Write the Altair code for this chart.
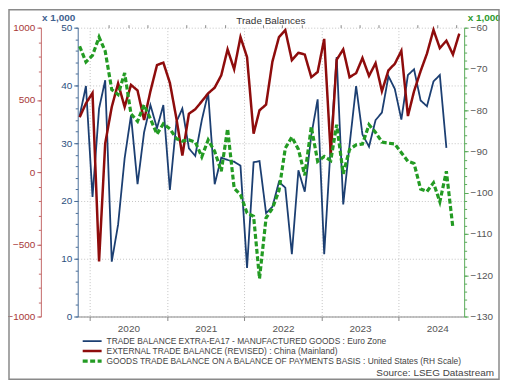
import altair as alt
import pandas as pd

blue_name = "TRADE BALANCE EXTRA-EA17 - MANUFACTURED GOODS : Euro Zone"
red_name = "EXTERNAL TRADE BALANCE (REVISED) : China (Mainland)"
green_name = "GOODS TRADE BALANCE ON A BALANCE OF PAYMENTS BASIS : United States (RH Scale)"

first_month = "2019-11-15"

blue_vals = [34.7, 39.9, 20.7, 36.0, 40.9, 9.5, 15.9, 27.4, 34.8, 22.9, 31.9, 36.6,
             32.6, 36.6, 21.9, 33.7, 36.0, 29.1, 27.8, 34.0, 38.7, 22.9, 27.5, 27.1,
             26.8, 26.1, 8.4, 26.7, 26.9, 17.9, 19.0, 23.3, 22.3, 10.8, 25.3, 21.6,
             31.4, 37.6, 10.8, 29.7, 44.9, 19.4, 29.7, 39.9, 31.5, 29.4, 34.0, 35.3,
             41.6, 39.4, 34.1, 41.8, 42.8, 37.4, 36.4, 40.7, 41.8, 29.2]

red_vals = [379, 476, 548, -618, 198, 451, 614, 451, 604, 565, 360, 560,
            741, 758, 618, 370, 114, 404, 435, 490, 545, 585, 670, 850,
            712, 935, 796, 266, 428, 467, 765, 935, 983, 775, 826, 814,
            657, 693, 922, 121, 778, 850, 657, 685, 790, 666, 754, 560,
            705, 750, 840, 388, 560, 699, 820, 985, 858, 910, 814, 959]

green_vals = [-64.5, -68.3, -66.7, -62.3, -65.7, -75.0, -76.2, -71.0, -80.9, -82.7, -78.7, -82.1,
              -85.8, -83.3, -84.5, -86.9, -87.5, -87.2, -87.7, -91.3, -87.2, -90.0, -94.8, -84.5,
              -98.9, -100.5, -104.9, -105.7, -120.8, -106.1, -103.8, -99.5, -89.2, -86.5, -89.5, -95.8,
              -84.0, -92.4, -91.2, -92.2, -83.5, -95.4, -89.5, -88.4, -88.2, -83.5, -85.4, -87.7,
              -88.0, -88.2, -90.3, -92.4, -92.9, -99.1, -99.7, -97.6, -102.2, -94.8, -108.6]

year_ticks = [2020, 2021, 2022, 2023, 2024]
quarter_months = [4, 7, 10]

blue_ticks = [0, 10, 20, 30, 40, 50]
red_ticks = [-1000, -500, 0, 500, 1000]
green_ticks = [-130, -120, -110, -100, -90, -80, -70, -60]

title_text = "Trade Balances"
unit_text = "x 1,000"
source_text = "Source: LSEG Datastream"

names = [blue_name, red_name, green_name]
colors = ["#1c3f72", "#8e0c0c", "#239b23"]
dashes = [[1, 0], [1, 0], [5, 2.5]]
widths = [1.8, 3.2, 2.3]


def make_df(vals, name):
    dates = pd.date_range(first_month, periods=len(vals), freq=pd.DateOffset(months=1))
    return pd.DataFrame({"date": dates.strftime("%Y-%m-%d"), "value": vals, "series": name})


df_blue = make_df(blue_vals, blue_name)
df_red = make_df(red_vals, red_name)
df_green = make_df(green_vals, green_name)

x_scale = alt.Scale(type="utc", domain=[alt.DateTime(year=2019, month=11, date=6, utc=True),
                                        alt.DateTime(year=2024, month=11, date=7, utc=True)])

major_x_axis = alt.Axis(
    values=[alt.DateTime(year=y, month=1, date=1, utc=True) for y in year_ticks],
    format="%Y", formatType="utc", labelOffset=39, grid=True, gridDash=[1, 2],
    gridColor="#c4c4c4", tickSize=4, tickColor="#888", domainColor="#8a8a8a",
    labelColor="#555", labelFontSize=10, labelPadding=3, title=None,
)
minor_x_axis = alt.Axis(
    values=[alt.DateTime(year=y, month=m, date=1, utc=True) for y in year_ticks for m in quarter_months],
    labels=False, grid=False, domain=False, tickSize=3, tickColor="#888", title=None,
)

legend = alt.Legend(
    orient="none", legendX=3, legendY=310, direction="vertical", symbolType="stroke",
    symbolSize=361, labelFontSize=8.4, labelColor="#444", labelLimit=0, title=None,
    clipHeight=9.5, rowPadding=0, labelOffset=3, symbolOpacity=1,
)

enc_style = dict(
    color=alt.Color("series:N", scale=alt.Scale(domain=names, range=colors), legend=legend),
    strokeDash=alt.StrokeDash("series:N", scale=alt.Scale(domain=names, range=dashes), legend=legend),
    strokeWidth=alt.StrokeWidth("series:N", scale=alt.Scale(domain=names, range=widths), legend=legend),
)


def line_layer(df, domain, yaxis, xaxis=None):
    return alt.Chart(df).mark_line(clip=False).encode(
        x=alt.X("date:T", scale=x_scale, axis=xaxis),
        y=alt.Y("value:Q", scale=alt.Scale(domain=domain, nice=False, zero=False), axis=yaxis),
        **enc_style,
    )


def tick_layer(df, domain, yaxis, xaxis=None):
    return alt.Chart(df).mark_line(strokeOpacity=0).encode(
        x=alt.X("date:T", scale=x_scale, axis=xaxis),
        y=alt.Y("value:Q", scale=alt.Scale(domain=domain, nice=False, zero=False), axis=yaxis),
    )


blue_axis = alt.Axis(
    orient="left", values=blue_ticks, grid=True, gridDash=[1, 2], gridColor="#c4c4c4",
    tickSize=4, tickColor="#4b6f99", domainColor="#4b6f99", labelColor="#2b4f7e",
    labelFontSize=10, labelPadding=2, title=unit_text, titleAngle=0, titleAlign="right",
    titleBaseline="alphabetic", titleX=-3, titleY=-7, titleFontSize=10, titleColor="#3f628f",
    titleFontWeight="bold", format="d",
)
blue_minor = alt.Axis(orient="left", values=list(range(0, 51, 2)), labels=False, grid=False,
                      domain=False, tickSize=2.5, tickColor="#4b6f99", title=None)

red_axis = alt.Axis(
    orient="left", offset=37, values=red_ticks, grid=False, tickSize=4, tickColor="#c46a6a",
    domainColor="#c46a6a", labelColor="#a83838", labelFontSize=10, labelPadding=2, title=None,
    format="d",
)
red_minor = alt.Axis(orient="left", offset=37, values=list(range(-1000, 1001, 100)), labels=False,
                     grid=False, domain=False, tickSize=2.5, tickColor="#c46a6a", title=None)

green_axis = alt.Axis(
    orient="right", values=green_ticks, grid=False, tickSize=4, tickColor="#5aaa5a",
    domainColor="#5aaa5a", labelColor="#555", labelFontSize=10, labelPadding=2,
    title=unit_text, titleAngle=0, titleAlign="left", titleBaseline="alphabetic",
    titleX=3, titleY=-7, titleFontSize=10, titleColor="#2e9a2e", titleFontWeight="bold",
    format="d",
)
green_minor = alt.Axis(orient="right", values=list(range(-130, -59, 2)), labels=False, grid=False,
                       domain=False, tickSize=2.5, tickColor="#5aaa5a", title=None)

frame = alt.Chart(pd.DataFrame({"k": [0]})).mark_rect(
    fillOpacity=0, stroke="#8a8a8a", strokeWidth=1.5, clip=False
).encode(x=alt.value(-69), x2=alt.value(423), y=alt.value(-18), y2=alt.value(353))

source = alt.Chart(pd.DataFrame({"t": [source_text]})).mark_text(
    align="right", baseline="alphabetic", fontSize=10, color="#444"
).encode(x=alt.value(418), y=alt.value(350), text="t:N")

title = alt.Chart(pd.DataFrame({"t": [title_text]})).mark_text(
    align="center", baseline="alphabetic", fontSize=10, color="#333"
).encode(x=alt.value(194), y=alt.value(-4), text="t:N")

chart = alt.layer(
    line_layer(df_blue, [0, 50], blue_axis, major_x_axis),
    tick_layer(df_blue, [0, 50], blue_minor, minor_x_axis),
    line_layer(df_red, [-1000, 1000], red_axis),
    tick_layer(df_red, [-1000, 1000], red_minor),
    line_layer(df_green, [-130, -60], green_axis),
    tick_layer(df_green, [-130, -60], green_minor),
    frame,
    source,
    title,
).resolve_scale(
    y="independent"
).resolve_axis(
    x="independent", y="independent"
).properties(
    width=388, height=290,
    padding={"left": 70, "top": 19, "right": 36, "bottom": 64},
    autosize=alt.AutoSizeParams(type="none"),
).configure(
    font="Liberation Sans"
).configure_view(
    strokeWidth=0
)

chart.save("out.html", embed_options={"renderer": "svg", "actions": False})
